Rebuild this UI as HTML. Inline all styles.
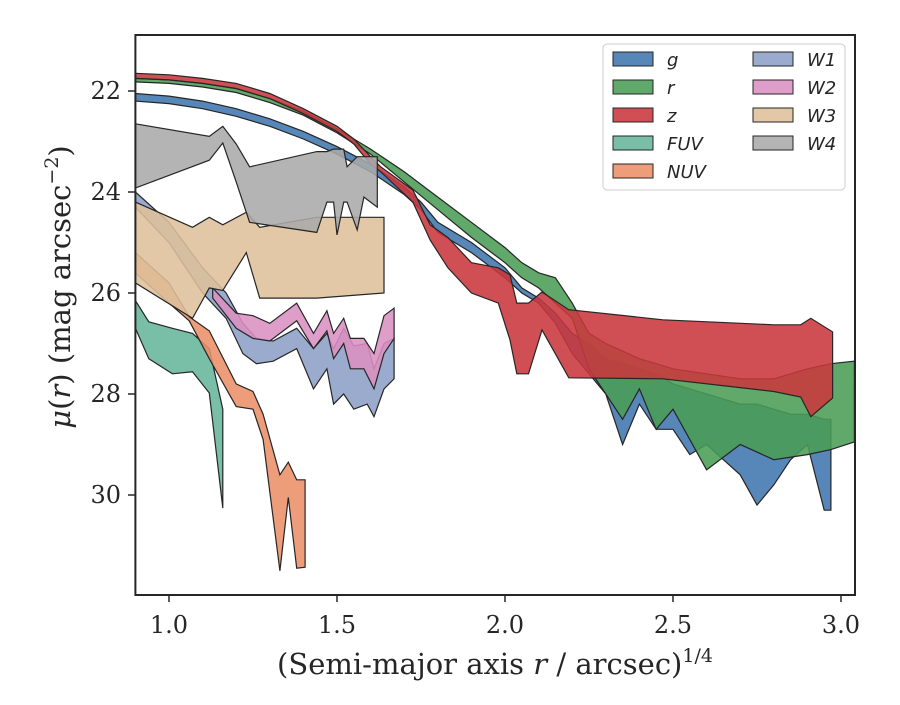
<!DOCTYPE html>
<html><head><meta charset="utf-8"><style>
body{margin:0;background:#fff}
svg text{font-family:"DejaVu Serif","Liberation Serif",serif;fill:#262626}
</style></head><body>
<svg id="chart" width="900" height="700" viewBox="0 0 900 700" xmlns="http://www.w3.org/2000/svg">
<rect width="900" height="700" fill="#fff"/>
<g id="bands"></g>
<rect x="135.4" y="35" width="719.6" height="560" fill="none" stroke="#262626" stroke-width="2"/>
<g id="axes"></g>
<text x="495" y="674" font-size="29" text-anchor="middle">(Semi-major axis <tspan font-style="italic">r</tspan> / arcsec)<tspan font-size="19" dy="-12">1/4</tspan></text>
<text transform="translate(70,287) rotate(-90)" font-size="29" text-anchor="middle"><tspan font-style="italic">μ</tspan>(<tspan font-style="italic">r</tspan>) (mag arcsec<tspan font-size="19" dy="-12">−2</tspan><tspan dy="12">)</tspan></text>
<g id="legend"></g>
</svg>
<script>
const xTicks=[1.0,1.5,2.0,2.5,3.0];
const xTickLabels=["1.0","1.5","2.0","2.5","3.0"];
const yTicks=[22,24,26,28,30];
const yTickLabels=["22","24","26","28","30"];

const gX=[0.9,1.0,1.1,1.2,1.3,1.4,1.5,1.6,1.7,1.75,1.8,1.9,2.0,2.05,2.1,2.15,2.2,2.25,2.3,2.35,2.4,2.45,2.5,2.55,2.6,2.65,2.7,2.75,2.8,2.85,2.9,2.95,2.97];
const gTop=[22.05,22.1,22.2,22.35,22.55,22.8,23.1,23.45,23.9,24.2,24.6,25.0,25.5,25.9,26.1,26.4,26.8,27.0,27.3,27.4,27.5,27.6,27.8,27.9,28.0,28.1,28.2,28.2,28.3,28.4,28.4,28.5,28.5];
const gBot=[22.2,22.25,22.35,22.5,22.7,22.95,23.25,23.6,24.05,24.35,24.8,25.2,25.7,26.0,26.2,26.6,27.2,27.6,28.0,29.0,28.2,28.7,28.7,29.2,29.0,29.3,29.6,30.2,29.8,29.3,29.0,30.3,30.3];

const rX=[0.9,1.0,1.1,1.2,1.3,1.4,1.5,1.6,1.7,1.8,1.9,2.0,2.05,2.1,2.15,2.2,2.25,2.3,2.35,2.4,2.45,2.5,2.6,2.7,2.8,2.9,2.97,3.04];
const rTop=[21.75,21.78,21.85,21.95,22.15,22.4,22.75,23.15,23.6,24.1,24.6,25.1,25.4,25.6,25.7,26.2,26.8,27.0,27.15,27.3,27.4,27.5,27.6,27.7,27.7,27.5,27.4,27.35];
const rBot=[21.82,21.85,21.92,22.03,22.23,22.48,22.83,23.25,23.8,24.35,24.9,25.4,25.7,25.9,26.2,26.5,27.5,28.0,28.5,27.9,28.7,28.3,29.5,29.0,29.3,29.2,29.1,28.95];

const zX=[0.9,1.0,1.1,1.2,1.3,1.4,1.5,1.55,1.6,1.63,1.726,1.777,1.83,1.9,1.98,2.015,2.035,2.07,2.11,2.19,2.47,2.8,2.88,2.91,2.975];
const zTop=[21.65,21.68,21.75,21.85,22.05,22.35,22.7,22.95,23.3,23.5,23.96,24.65,24.9,25.4,25.5,25.64,26.2,26.2,25.98,26.33,26.53,26.63,26.63,26.5,26.77];
const zBot=[21.75,21.78,21.85,21.95,22.15,22.45,22.8,23.05,23.45,23.6,24.2,24.95,25.5,26.0,26.2,26.93,27.6,27.6,26.73,27.68,27.7,27.95,28.06,28.45,28.08];

const fuvX=[0.9,0.94,1.01,1.07,1.12,1.16];
const fuvTop=[26.15,26.57,26.7,26.8,27.1,28.3];
const fuvBot=[26.7,27.3,27.6,27.56,27.98,30.26];

const nuvX=[0.9,1.0,1.06,1.12,1.2,1.25,1.28,1.33,1.355,1.38,1.405];
const nuvTop=[25.2,25.8,26.47,26.75,27.8,27.95,28.4,29.6,29.35,29.7,29.7];
const nuvBot=[25.6,26.2,26.55,27.3,28.25,28.3,28.9,31.5,30.05,31.45,31.43];

const w1X=[0.9,1.0,1.1,1.17,1.22,1.26,1.31,1.38,1.43,1.47,1.49,1.52,1.55,1.59,1.61,1.64,1.67];
const w1Top=[24.0,24.6,25.5,26.0,26.6,26.9,26.95,26.7,27.1,26.8,27.1,26.7,27.05,27.0,27.5,27.0,26.9];
const w1Bot=[24.3,25.0,26.0,26.5,27.2,27.4,27.35,27.1,27.9,27.5,28.2,28.0,28.3,28.2,28.45,27.9,27.7];

const w2X=[1.13,1.2,1.25,1.3,1.38,1.43,1.47,1.49,1.52,1.54,1.58,1.61,1.64,1.67];
const w2Top=[25.9,26.4,26.45,26.6,26.2,26.8,26.35,26.8,26.5,26.9,26.9,27.2,26.45,26.3];
const w2Bot=[26.1,26.7,26.9,26.95,26.55,27.1,26.75,27.3,27.0,27.5,27.5,27.9,27.2,26.9];

const w3X=[0.9,1.07,1.12,1.16,1.23,1.27,1.44,1.64];
const w3Top=[24.2,24.7,24.5,24.65,24.4,24.7,24.5,24.5];
const w3Bot=[25.8,26.5,25.9,25.95,25.2,26.1,26.1,26.0];

const w4X=[0.9,1.12,1.16,1.2,1.24,1.44,1.47,1.49,1.5,1.52,1.53,1.56,1.58,1.62];
const w4Top=[22.65,22.9,22.7,23.05,23.5,23.2,23.2,23.15,23.15,23.15,23.5,23.3,23.3,23.3];
const w4Bot=[23.92,23.37,23.03,23.8,24.6,24.8,24.2,24.2,24.85,24.2,24.2,24.75,24.1,24.3];

const X0=135.4,XS=336,Y0=91,YS=50.5;
function sx(v){return X0+(v-0.9)*XS;}
function sy(v){return Y0+(v-22)*YS;}
const NS="http://www.w3.org/2000/svg";
const bands=document.getElementById('bands');
const series=[
 ["g",gX,gTop,gBot,"#3f76ae"],
 ["r",rX,rTop,rBot,"#4a9d55"],
 ["z",zX,zTop,zBot,"#c9373c"],
 ["FUV",fuvX,fuvTop,fuvBot,"#66b59a"],
 ["NUV",nuvX,nuvTop,nuvBot,"#ea8f68"],
 ["W1",w1X,w1Top,w1Bot,"#8d9fc6"],
 ["W2",w2X,w2Top,w2Bot,"#db8fc2"],
 ["W3",w3X,w3Top,w3Bot,"#dec09a"],
 ["W4",w4X,w4Top,w4Bot,"#aaaaaa"]];
series.forEach(s=>{
  const [n,xs,t,b,c]=s;
  let pts=[];
  for(let i=0;i<xs.length;i++)pts.push(sx(xs[i]).toFixed(1)+","+sy(t[i]).toFixed(1));
  for(let i=xs.length-1;i>=0;i--)pts.push(sx(xs[i]).toFixed(1)+","+sy(b[i]).toFixed(1));
  const p=document.createElementNS(NS,'polygon');
  p.setAttribute('points',pts.join(' '));
  p.setAttribute('fill',c);p.setAttribute('fill-opacity','0.88');
  p.setAttribute('stroke','#262626');p.setAttribute('stroke-width','1.2');p.setAttribute('stroke-linejoin','miter');
  
  
  bands.appendChild(p);
});
const axes=document.getElementById('axes');
xTicks.forEach((v,i)=>{
  const l=document.createElementNS(NS,'line');
  l.setAttribute('x1',sx(v));l.setAttribute('x2',sx(v));l.setAttribute('y1',595);l.setAttribute('y2',602);
  l.setAttribute('stroke','#262626');l.setAttribute('stroke-width','1.5');
  
  
  axes.appendChild(l);
  const t=document.createElementNS(NS,'text');
  t.setAttribute('x',sx(v));t.setAttribute('y',633);t.setAttribute('font-size','24');t.setAttribute('text-anchor','middle');
  t.textContent=xTickLabels[i];
  
  
  axes.appendChild(t);
});
yTicks.forEach((v,i)=>{
  const l=document.createElementNS(NS,'line');
  l.setAttribute('x1',128);l.setAttribute('x2',135.4);l.setAttribute('y1',sy(v));l.setAttribute('y2',sy(v));
  l.setAttribute('stroke','#262626');l.setAttribute('stroke-width','1.5');
  
  
  axes.appendChild(l);
  const t=document.createElementNS(NS,'text');
  t.setAttribute('x',121);t.setAttribute('y',sy(v)+8);t.setAttribute('font-size','24');t.setAttribute('text-anchor','end');
  t.textContent=yTickLabels[i];
  
  
  axes.appendChild(t);
});
const leg=document.getElementById('legend');
leg.innerHTML='<rect x="603" y="44" width="242" height="146" rx="4" fill="#fff" fill-opacity="0.85" stroke="#ccc"/>';
series.forEach((s,i)=>{
  const col=i<5?0:1,row=i<5?i:i-5;
  const x=613+col*140,y=52+row*28;
  const r=document.createElementNS(NS,'rect');
  r.setAttribute('x',x);r.setAttribute('y',y);r.setAttribute('width',40);r.setAttribute('height',14);
  r.setAttribute('fill',s[4]);r.setAttribute('fill-opacity','0.88');r.setAttribute('stroke','#262626');
  
  
  leg.appendChild(r);
  const t=document.createElementNS(NS,'text');
  t.setAttribute('x',x+54);t.setAttribute('y',y+14);t.setAttribute('font-size','18');
  t.setAttribute('style','font-family:"DejaVu Sans","Liberation Sans",sans-serif;font-style:italic');
  t.textContent=s[0];
  
  
  leg.appendChild(t);
});
</script>
</body></html>
